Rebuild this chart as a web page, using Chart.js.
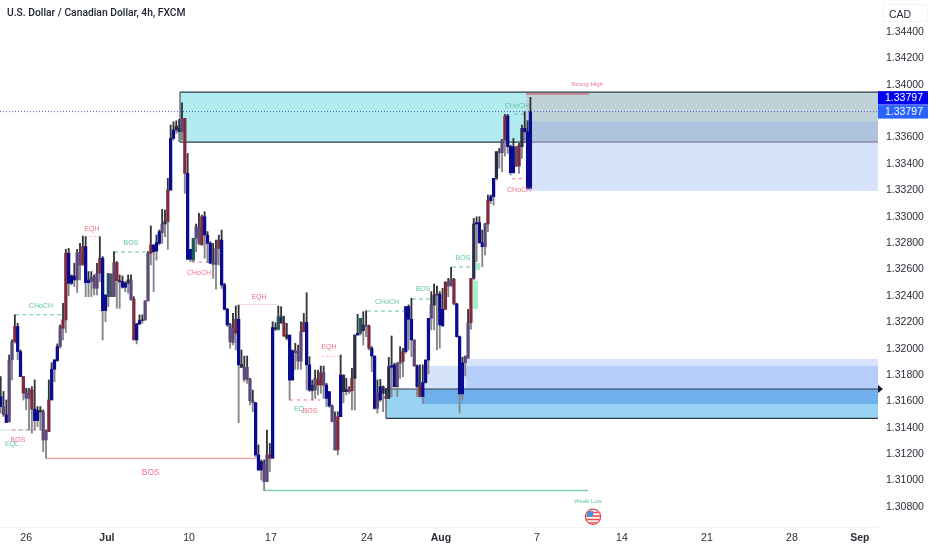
<!DOCTYPE html>
<html>
<head>
<meta charset="utf-8">
<title>USDCAD 4h</title>
<script src="https://cdn.jsdelivr.net/npm/chart.js@4"></script>
<style>
    body { margin: 0; background: #fff; font-family: "Liberation Sans", sans-serif; }
    #wrap { position: relative; width: 932px; height: 550px; overflow: hidden; }
    #title { position: absolute; left: 7px; top: 6px; font: 500 10.3px Roboto, sans-serif; color: #1c2030; white-space: nowrap; }
    #unit { position: absolute; left: 883px; top: 4px; width: 45px; height: 18px; line-height: 18px; box-sizing: border-box; border: 1px solid #f2f3f6; padding-left: 5px; font-size: 10.5px; color: #2a2e39; }
</style>
</head>
<body>
<div id="wrap">
    <canvas id="chart" width="932" height="550"></canvas>
    <div id="title">U.S. Dollar / Canadian Dollar, 4h, FXCM</div>
    <div id="unit">CAD</div>
</div>
<script>
// candles
const bodyTop = [1.31637,1.31561,1.31498,1.31915,1.32053,1.32167,1.32167,1.31978,1.31788,1.31662,1.31687,1.31687,1.31541,1.31531,1.31531,1.31520,1.31371,1.31611,1.31844,1.31915,1.32016,1.32167,1.32218,1.32723,1.32723,1.32551,1.32551,1.32728,1.32728,1.32773,1.32773,1.32521,1.32541,1.32541,1.32571,1.32685,1.32685,1.32407,1.32566,1.32566,1.32652,1.32652,1.32516,1.32508,1.32495,1.32521,1.32521,1.32374,1.32187,1.32213,1.32218,1.32362,1.32723,
    1.32786,1.32786,1.32803,1.32887,1.32945,1.32962,1.33202,1.33594,1.33657,1.33687,1.33670,1.33746,1.33746,1.33329,1.32753,1.32836,1.32925,1.32925,1.33000,1.33000,1.32861,1.32798,1.32659,1.32760,1.32823,1.32823,1.32483,1.32298,1.32180,1.32154,1.32223,1.32222,
    1.31881,1.31858,1.31858,1.31767,1.31606,1.31590,1.31194,1.31143,1.31126,1.31194,1.31194,1.32159,1.32159,1.32242,1.32242,1.32197,1.32103,1.32103,1.31985,1.31985,1.31977,1.32128,1.32199,1.32199,1.31877,1.31724,1.31775,1.31762,1.31818,1.31818,1.31724,1.31674,1.31565,1.31454,1.31484,1.31800,1.31800,1.31691,1.31691,1.31775,1.32103,1.32116,1.32230,1.32179,1.32179,1.32171,1.32002,1.31944,1.31666,1.31712,1.31712,1.31636,1.31863,
    1.31869,1.31877,1.31889,1.31902,1.31978,1.32319,1.32319,1.32223,1.32066,1.31869,1.31717,1.31743,1.31914,1.32230,1.32331,1.32407,1.32415,1.32412,1.32298,1.32503,1.32508,1.32526,1.32526,1.32339,1.32091,1.31894,1.31940,1.32197,1.32533,
    1.32945,1.32955,1.32955,1.32803,1.32945,1.33122,1.33152,1.33291,1.33493,1.33493,1.33581,1.33763,1.33763,1.33531,1.33531,1.33531,1.33543,1.33670,1.33670,1.33644,1.33796];
const bodyBottom = [1.31561,1.31498,1.31440,1.31447,1.31915,1.32053,1.31978,1.31788,1.31662,1.31624,1.31624,1.31541,1.31455,1.31455,1.31520,1.31308,1.31308,1.31371,1.31611,1.31844,1.31910,1.32016,1.32154,1.32218,1.32495,1.32495,1.32521,1.32521,1.32634,1.32634,1.32500,1.32500,1.32508,1.32458,1.32458,1.32571,1.32288,1.32288,1.32394,1.32394,1.32394,1.32516,1.32506,1.32465,1.32465,1.32495,1.32369,1.32066,1.32066,1.32187,1.32213,1.32218,1.32362,
    1.32722,1.32735,1.32740,1.32798,1.32879,1.32945,1.32962,1.33202,1.33594,1.33657,1.33644,1.33644,1.33329,1.32677,1.32677,1.32672,1.32836,1.32798,1.32786,1.32861,1.32798,1.32647,1.32639,1.32639,1.32760,1.32482,1.32298,1.32180,1.32053,1.32046,1.32117,1.31877,
    1.31858,1.31767,1.31767,1.31606,1.31590,1.31194,1.31080,1.31080,1.30992,1.30992,1.31169,1.31169,1.32146,1.32146,1.32197,1.32096,1.32078,1.31762,1.31762,1.31969,1.31906,1.31906,1.32128,1.31877,1.31686,1.31681,1.31686,1.31724,1.31724,1.31724,1.31623,1.31565,1.31446,1.31232,1.31232,1.31484,1.31674,1.31674,1.31674,1.31681,1.31775,1.32103,1.32116,1.32136,1.32166,1.32002,1.31944,1.31547,1.31547,1.31611,1.31661,1.31623,1.31623,
    1.31859,1.31712,1.31712,1.31889,1.31902,1.31978,1.32223,1.32066,1.31869,1.31712,1.31637,1.31637,1.31743,1.31914,1.32230,1.32331,1.32405,1.32180,1.32172,1.32298,1.32475,1.32475,1.32339,1.32091,1.31657,1.31657,1.31894,1.31927,1.32197,
    1.32533,1.32945,1.32803,1.32773,1.32773,1.32945,1.33122,1.33152,1.33291,1.33485,1.33485,1.33581,1.33531,1.33334,1.33334,1.33384,1.33384,1.33531,1.33644,1.33215,1.33215];
const highs = [1.31788,1.31675,1.31611,1.31952,1.32066,1.32256,1.32192,1.31990,1.31788,1.31700,1.31700,1.31712,1.31763,1.31561,1.31561,1.31536,1.31384,1.31763,1.31894,1.31915,1.32036,1.32180,1.32344,1.32753,1.32761,1.32559,1.32647,1.32753,1.32799,1.32854,1.32849,1.32584,1.32584,1.32559,1.32647,1.32849,1.32698,1.32407,1.32571,1.32566,1.32735,1.32660,1.32559,1.32551,1.32508,1.32559,1.32559,1.32394,1.32192,1.32256,1.32256,1.32362,1.32735,
    1.32930,1.32786,1.32861,1.32899,1.33056,1.33051,1.33291,1.33695,1.33720,1.33728,1.33738,1.33864,1.33746,1.33480,1.32753,1.32836,1.32945,1.33026,1.33013,1.33038,1.32887,1.32811,1.32798,1.32823,1.32861,1.32899,1.32495,1.32306,1.32192,1.32268,1.32324,1.32331,
    1.31990,1.31944,1.31944,1.31775,1.31686,1.31590,1.31270,1.31156,1.31156,1.31383,1.31282,1.32204,1.32197,1.32323,1.32318,1.32247,1.32192,1.32103,1.31990,1.32040,1.32027,1.32204,1.32267,1.32424,1.31939,1.31762,1.31838,1.31838,1.31868,1.31868,1.31737,1.31674,1.31573,1.31522,1.31522,1.31952,1.31800,1.31775,1.31712,1.31851,1.32103,1.32260,1.32230,1.32280,1.32288,1.32179,1.32015,1.31944,1.31762,1.31767,1.31717,1.31699,1.31934,
    1.32096,1.31889,1.31894,1.32015,1.32003,1.32319,1.32331,1.32382,1.32066,1.31877,1.31877,1.31877,1.31914,1.32230,1.32432,1.32490,1.32475,1.32432,1.32457,1.32508,1.32533,1.32617,1.32533,1.32344,1.32096,1.31935,1.31945,1.32298,1.32533,
    1.32988,1.33000,1.33000,1.32899,1.32950,1.33165,1.33165,1.33291,1.33493,1.33518,1.33586,1.33776,1.33776,1.33543,1.33594,1.33531,1.33556,1.33695,1.33796,1.33728,1.33905];
const lows = [1.31510,1.31485,1.31440,1.31440,1.31763,1.32041,1.31915,1.31788,1.31611,1.31536,1.31384,1.31359,1.31384,1.31409,1.31384,1.31220,1.31169,1.31371,1.31611,1.31750,1.31902,1.32003,1.32066,1.32122,1.32400,1.32483,1.32470,1.32425,1.32521,1.32634,1.32394,1.32394,1.32394,1.32407,1.32407,1.32508,1.32066,1.32205,1.32319,1.32394,1.32394,1.32306,1.32306,1.32458,1.32432,1.32420,1.32369,1.32066,1.32036,1.32180,1.32192,1.32213,1.32362,
    1.32634,1.32432,1.32672,1.32786,1.32798,1.32849,1.32753,1.33202,1.33581,1.33632,1.33569,1.33581,1.33177,1.32677,1.32659,1.32659,1.32735,1.32786,1.32786,1.32685,1.32652,1.32647,1.32533,1.32450,1.32634,1.32457,1.32293,1.32167,1.32003,1.32028,1.31990,1.31439,
    1.31858,1.31750,1.31737,1.31573,1.31522,1.31181,1.31075,1.31004,1.30924,1.30992,1.31068,1.31169,1.32136,1.32141,1.32187,1.32091,1.32065,1.31611,1.31762,1.31843,1.31843,1.31843,1.32128,1.31686,1.31674,1.31611,1.31623,1.31649,1.31661,1.31623,1.31560,1.31555,1.31446,1.31232,1.31194,1.31484,1.31590,1.31649,1.31661,1.31535,1.31535,1.32103,1.32103,1.32027,1.32091,1.31990,1.31826,1.31540,1.31510,1.31598,1.31522,1.31522,1.31623,
    1.31637,1.31707,1.31637,1.31775,1.31788,1.31965,1.31990,1.31940,1.31864,1.31637,1.31632,1.31581,1.31738,1.31808,1.32142,1.32142,1.31990,1.32003,1.32172,1.32298,1.32394,1.32475,1.32331,1.32086,1.31510,1.31611,1.31793,1.31927,1.32147,
    1.32520,1.32659,1.32798,1.32621,1.32710,1.32887,1.33101,1.33089,1.33278,1.33367,1.33341,1.33460,1.33480,1.33316,1.33329,1.33379,1.33329,1.33442,1.33569,1.33215,1.33215];
const tones = 'npnppmnnmppmnndppmnnnpmmnnnppmnnpppmnntppmdnndpmnndpp' +
    'mnnnpdmnnddpmnntppmnnnppmnnnppmn' +
    'dppppnnnppmndtdmdnnpppmnndpmmpnnppmnddpmdntdpmnnpndm' +
    'dnnppmnnnpnmnnnpdmnnmppmnnnpp' +
    'mdnnnpmnndppmnnnpmdnn';

// axes
const priceTicks = [1.344, 1.342, 1.340, 1.336, 1.334, 1.332, 1.330, 1.328, 1.326, 1.324, 1.322, 1.320, 1.318, 1.316, 1.314, 1.312, 1.310, 1.308];
const dateSlots = [9, 37.5, 66.5, 95.4, 129.3, 155.4, 189.3, 219.3, 249.3, 279.3, 303.3];
const dateNames = ['26', 'Jul', '10', '17', '24', 'Aug', '7', '14', '21', '28', 'Sep'];
const monthNames = ['Jul', 'Aug', 'Sep'];
const lastPrice = 1.33797;

// shaded boxes: from slot, to slot, top price, bottom price, shade
const boxes = [
    [63.3, 185.4, 1.33945, 1.33566, 'cyan'],
    [185.4, 309.7, 1.33945, 1.33725, 'greyBlue'],
    [185.4, 309.7, 1.33725, 1.33566, 'midBlue'],
    [185.4, 309.7, 1.33566, 1.33195, 'paleBlue'],
    [136, 309.7, 1.31694, 1.31472, 'sky'],
    [149.1, 164.3, 1.31869, 1.31694, 'paleBlue'],
    [164.3, 309.7, 1.31922, 1.31869, 'paleBlue'],
    [164.3, 309.7, 1.31869, 1.31694, 'softBlue'],
    [149.1, 309.7, 1.31694, 1.31581, 'strongBlue'],
    [166.7, 168.5, 1.32513, 1.32301, 'mint'],
    [167.8, 169.2, 1.32649, 1.32596, 'mint']
];
// level lines: from slot, to slot, price, kind
const levels = [
    [63.3, 309.7, 1.33945, 'edge'],
    [63.3, 185.4, 1.33566, 'edge'],
    [185.4, 309.7, 1.33566, 'edgeSoft'],
    [136, 309.7, 1.31694, 'edge'],
    [136, 309.7, 1.31472, 'edge'],
    [185.4, 207.7, 1.3393, 'redStrong'],
    [16, 90.8, 1.31169, 'redSolid'],
    [93.3, 207.3, 1.30924, 'greenSolid'],
    [5.1, 22, 1.32257, 'greenDash'],
    [40, 52, 1.32733, 'greenDash'],
    [129.3, 142.7, 1.32285, 'greenDash'],
    [145.2, 152.6, 1.32376, 'greenDash'],
    [159.3, 167.4, 1.32619, 'greenDash'],
    [181.2, 185.8, 1.33779, 'greenDash'],
    [29.8, 35, 1.32849, 'redDot'],
    [84.5, 98.6, 1.32335, 'redDot'],
    [113.4, 120.5, 1.31941, 'redDot'],
    [67.5, 73.9, 1.32657, 'redDash'],
    [180.5, 184.4, 1.33288, 'redDash'],
    [102.1, 112.7, 1.31611, 'redDash'],
    [-0.24, 11, 1.31384, 'greenDot'],
    [4, 15.6, 1.31384, 'redDash'],
    [-0.24, 309.7, lastPrice, 'lastDot']
];
// small notes: slot, price, text, colour, font size
const notes = [
    [207, 1.34006, 'Strong High', 'red', 6],
    [207.3, 1.3084, 'Weak Low', 'green', 6],
    [53, 1.3106, 'BOS', 'red', 8.5],
    [14.2, 1.32323, 'CHoCH', 'green', 7],
    [46, 1.32797, 'BOS', 'green', 7],
    [32.2, 1.32907, 'EQH', 'red', 7],
    [70, 1.32576, 'CHoCH', 'red', 7],
    [4, 1.31277, 'EQL', 'green', 7],
    [6.1, 1.31308, 'BOS', 'red', 7],
    [91.2, 1.32394, 'EQH', 'red', 7],
    [115.9, 1.32015, 'EQH', 'red', 7],
    [105.3, 1.31543, 'EQ', 'green', 7],
    [109.2, 1.3153, 'BOS', 'red', 7],
    [136.4, 1.32356, 'CHoCH', 'green', 7],
    [149.1, 1.32452, 'BOS', 'green', 7],
    [163.2, 1.32687, 'BOS', 'green', 7],
    [182.2, 1.33839, 'CHoCH', 'green', 7],
    [183, 1.33203, 'CHoCH', 'red', 7]
];
const flagSlot = 209.1;
const flagPrice = 1.30726;

const toneColors = { n: '#0b0b8f', m: '#7d2a3c', p: '#5e4a7a', d: '#2a2a4a', t: '#1f5a5a' };
const shades = {
    cyan: '#b2ebf0', greyBlue: '#bfd2d8', midBlue: '#aec3dd', paleBlue: '#d6e3fb',
    sky: '#98d3f3', softBlue: '#b5cffa', strongBlue: '#6fb0ec', mint: '#a5f0c4'
};
const lineKinds = {
    edge: { color: '#2b3a44', width: 1.2, dash: [] },
    edgeSoft: { color: '#8b88a8', width: 1.5, dash: [] },
    redSolid: { color: '#ee7f86', width: 1.2, dash: [] },
    redStrong: { color: '#cf7380', width: 1.5, dash: [] },
    greenSolid: { color: '#7fcfb6', width: 1.5, dash: [] },
    greenDash: { color: '#5fc4a4', width: 1, dash: [4, 3] },
    redDash: { color: '#f0728a', width: 1, dash: [3, 4] },
    redDot: { color: '#f0a0ac', width: 1, dash: [1, 1.5] },
    greenDot: { color: '#70c8b0', width: 1, dash: [1, 1.5] },
    lastDot: { color: '#4f55c4', width: 1, dash: [1, 2] }
};
const noteColors = { red: '#f0728a', green: '#5fc4a4' };

const zonesPlugin = {
    id: 'zones',
    beforeDatasetsDraw(chart) {
        const { ctx, scales: { x, y } } = chart;
        ctx.save();
        boxes.forEach(b => {
            ctx.fillStyle = shades[b[4]];
            ctx.fillRect(x.getPixelForValue(b[0]), y.getPixelForValue(b[2]),
                x.getPixelForValue(b[1]) - x.getPixelForValue(b[0]), y.getPixelForValue(b[3]) - y.getPixelForValue(b[2]));
        });
        // left edges of the two boxes
        ctx.strokeStyle = '#2b3a44';
        ctx.lineWidth = 1;
        ctx.beginPath();
        ctx.moveTo(x.getPixelForValue(63.3), y.getPixelForValue(1.33945));
        ctx.lineTo(x.getPixelForValue(63.3), y.getPixelForValue(1.33566));
        ctx.moveTo(x.getPixelForValue(136), y.getPixelForValue(1.31694));
        ctx.lineTo(x.getPixelForValue(136), y.getPixelForValue(1.31472));
        ctx.stroke();
        levels.forEach(l => {
            const kind = lineKinds[l[3]];
            ctx.strokeStyle = kind.color;
            ctx.lineWidth = kind.width;
            ctx.setLineDash(kind.dash);
            ctx.beginPath();
            ctx.moveTo(x.getPixelForValue(l[0]), y.getPixelForValue(l[2]));
            ctx.lineTo(x.getPixelForValue(l[1]), y.getPixelForValue(l[2]));
            ctx.stroke();
        });
        ctx.setLineDash([]);
        ctx.restore();
    },
    afterDraw(chart) {
        const { ctx, scales: { x, y }, chartArea } = chart;
        ctx.save();
        ctx.textAlign = 'center';
        ctx.textBaseline = 'middle';
        notes.forEach(n => {
            ctx.font = n[4] + 'px "Liberation Sans", sans-serif';
            ctx.fillStyle = noteColors[n[3]];
            ctx.fillText(n[2], x.getPixelForValue(n[0]), y.getPixelForValue(n[1]));
        });

        // last price tags
        const tagY = y.getPixelForValue(lastPrice);
        const right = chartArea.right;
        ctx.font = '10.5px "Liberation Sans", sans-serif';
        [[tagY - 20.5, '#0000f0'], [tagY - 6.5, '#2962ff']].forEach(tag => {
            ctx.fillStyle = tag[1];
            ctx.fillRect(right, tag[0], 50, 13.5);
            ctx.fillStyle = '#fff';
            ctx.fillText(lastPrice.toFixed(5), right + 26, tag[0] + 7);
        });

        // marker on the right edge
        const markY = y.getPixelForValue(1.31694);
        ctx.fillStyle = '#131722';
        ctx.beginPath();
        ctx.moveTo(right, markY - 4);
        ctx.lineTo(right + 5, markY);
        ctx.lineTo(right, markY + 4);
        ctx.fill();

        // US event flag
        const fx = x.getPixelForValue(flagSlot), fy = y.getPixelForValue(flagPrice);
        ctx.beginPath();
        ctx.arc(fx, fy, 8, 0, Math.PI * 2);
        ctx.fillStyle = '#fff';
        ctx.fill();
        ctx.save();
        ctx.beginPath();
        ctx.arc(fx, fy, 7, 0, Math.PI * 2);
        ctx.clip();
        ctx.fillStyle = '#ef4a50';
        ctx.fillRect(fx - 7, fy - 5, 14, 1.6);
        ctx.fillRect(fx - 7, fy - 1.5, 14, 1.6);
        ctx.fillRect(fx - 7, fy + 2, 14, 1.6);
        ctx.fillRect(fx - 7, fy + 5.5, 14, 1.6);
        ctx.fillStyle = '#3f93e6';
        ctx.fillRect(fx - 6, fy - 6, 6, 6);
        ctx.restore();
        ctx.beginPath();
        ctx.arc(fx, fy, 7.6, 0, Math.PI * 2);
        ctx.strokeStyle = '#e8424c';
        ctx.lineWidth = 1.2;
        ctx.stroke();
        ctx.restore();
    }
};

const slots = bodyTop.map((v, i) => i);

new Chart(document.getElementById('chart'), {
    type: 'bar',
    data: {
        datasets: [
            {
                data: slots.map(i => ({ x: i, y: [bodyBottom[i], bodyTop[i]] })),
                backgroundColor: slots.map(i => toneColors[tones[i]] || toneColors.n),
                barThickness: 2.6,
                grouped: false,
                borderSkipped: false
            },
            {
                data: slots.map(i => ({ x: i, y: [bodyTop[i], highs[i]] })),
                backgroundColor: '#33333a',
                barThickness: 1.2,
                grouped: false,
                borderSkipped: false
            },
            {
                data: slots.map(i => ({ x: i, y: [lows[i], bodyBottom[i]] })),
                backgroundColor: '#85858a',
                barThickness: 1.2,
                grouped: false,
                borderSkipped: false
            }
        ]
    },
    options: {
        responsive: false,
        animation: false,
        layout: { padding: 0 },
        plugins: { legend: { display: false }, tooltip: { enabled: false }, title: { display: false } },
        scales: {
            x: {
                type: 'linear',
                offset: false,
                min: -0.24,
                max: 309.7,
                afterBuildTicks: scale => { scale.ticks = dateSlots.map(value => ({ value })); },
                afterFit: scale => { scale.height = 23; scale.paddingLeft = 0; scale.paddingRight = 0; },
                grid: { display: false, drawTicks: false, offset: false },
                border: { display: true, color: '#f0f3fa' },
                ticks: {
                    autoSkip: false,
                    maxRotation: 0,
                    padding: 5,
                    color: '#2a2e39',
                    callback: value => dateNames[dateSlots.indexOf(value)],
                    font: ctx => ({
                        family: '"Liberation Sans", sans-serif',
                        size: 10.5,
                        weight: monthNames.includes(dateNames[ctx.index]) ? 'bold' : 'normal'
                    })
                }
            },
            y: {
                position: 'right',
                min: 1.30648,
                max: 1.34643,
                afterBuildTicks: scale => { scale.ticks = priceTicks.map(value => ({ value })); },
                afterFit: scale => { scale.width = 54; scale.paddingTop = 0; scale.paddingBottom = 0; },
                grid: { display: false, drawTicks: false },
                border: { display: false },
                ticks: {
                    padding: 8,
                    color: '#2a2e39',
                    font: { family: '"Liberation Sans", sans-serif', size: 10.5 },
                    callback: value => value.toFixed(5)
                }
            }
        }
    },
    plugins: [zonesPlugin]
});
</script>
</body>
</html>
